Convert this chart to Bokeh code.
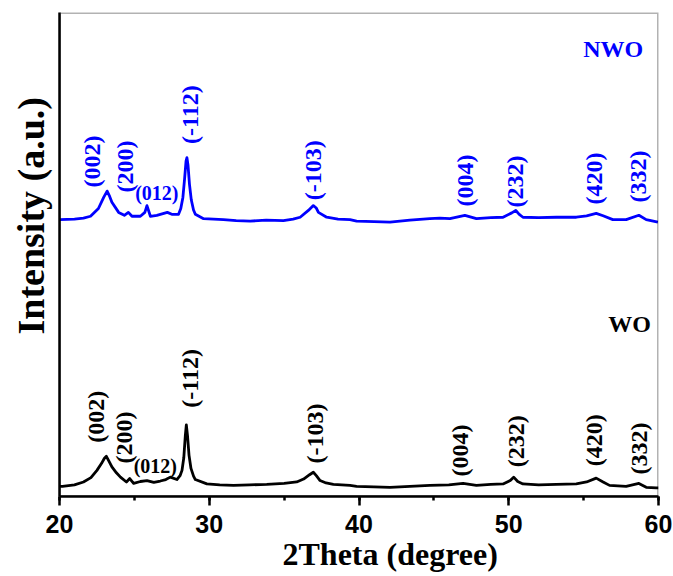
import math
from bokeh.plotting import figure
from bokeh.models import Range1d, SingleIntervalTicker, FixedTicker, BoxAnnotation, Title
from bokeh.core.properties import value
from bokeh.embed import file_html
from bokeh.resources import INLINE

# ---- data (2theta in degrees, intensity in a.u.) ----
wo_2theta = [20.0, 20.2, 21.0, 21.6, 22.1, 22.5, 22.8, 23.0, 23.13, 23.3, 23.5, 23.8, 24.07, 24.47,
             24.69, 24.95, 25.4, 25.84, 26.3, 26.73, 27.1, 27.4, 27.84, 28.05, 28.18, 28.3, 28.4,
             28.47, 28.55, 28.65, 28.78, 28.95, 29.07, 29.84, 30.7, 31.62, 32.7, 33.84, 35.0,
             35.84, 36.3, 36.7, 36.95, 37.15, 37.4, 37.8, 38.29, 39.4, 39.84, 41.0, 42.07, 43.4,
             44.73, 46.0, 46.95, 47.84, 48.8, 49.62, 50.1, 50.33, 50.6, 50.95, 52.0, 53.18, 54.51,
             55.2, 55.84, 56.3, 56.73, 57.84, 58.69, 59.18, 59.84, 60.0]
wo_int = [2.1, 2.1, 2.4, 3.0, 3.9, 5.4, 6.8, 7.9, 8.3, 7.3, 6.1, 4.9, 4.0, 3.0,
          3.7, 2.7, 3.1, 3.3, 2.9, 3.2, 3.5, 4.0, 3.5, 4.3, 5.4, 8.0, 12.5,
          14.8, 12.5, 8.5, 5.8, 4.2, 3.5, 2.6, 2.4, 2.3, 2.4, 2.5, 2.7,
          3.0, 3.6, 4.5, 5.0, 4.3, 3.3, 2.8, 2.5, 2.3, 2.1, 2.0, 1.9, 2.1,
          2.3, 2.4, 2.7, 2.3, 2.5, 2.6, 3.3, 4.0, 3.1, 2.6, 2.4, 2.5, 2.6,
          3.0, 3.8, 3.0, 2.3, 2.1, 2.7, 1.9, 1.8, 1.8]

nwo_2theta = [20.0, 21.0, 21.6, 22.07, 22.6, 22.95, 23.18, 23.35, 23.5, 23.95, 24.33, 24.6, 24.84,
              25.4, 25.7, 25.84, 26.07, 26.5, 27.2, 27.5, 27.95, 28.1, 28.24, 28.35, 28.45, 28.51,
              28.58, 28.68, 28.8, 28.95, 29.07, 29.62, 30.95, 31.8, 32.73, 33.8, 34.95, 35.6,
              36.07, 36.62, 36.95, 37.15, 37.29, 37.84, 38.6, 39.4, 39.84, 41.0, 42.07, 43.4,
              44.73, 45.4, 46.07, 47.07, 47.84, 48.8, 49.62, 50.2, 50.47, 50.7, 50.95, 52.0, 53.18,
              54.51, 55.2, 55.84, 56.3, 56.95, 57.84, 58.69, 59.18, 59.96]
nwo_int = [57.2, 57.3, 57.5, 57.9, 59.5, 61.8, 63.1, 62.0, 60.8, 58.7, 58.1, 58.7, 57.9,
           57.9, 58.7, 60.1, 57.9, 58.1, 58.7, 58.3, 58.3, 59.5, 61.8, 65.5, 69.3, 70.0,
           68.5, 64.5, 61.3, 59.2, 58.3, 57.4, 57.2, 57.0, 56.9, 57.1, 57.0, 57.3,
           57.7, 59.1, 60.1, 59.6, 58.7, 57.7, 57.3, 57.2, 56.9, 56.8, 56.7, 57.1,
           57.4, 57.5, 57.4, 58.1, 57.4, 57.6, 57.7, 58.6, 59.1, 58.3, 57.7, 57.6, 57.7,
           57.7, 58.0, 58.5, 58.0, 57.2, 57.2, 58.1, 57.2, 56.7]

# peak labels (hkl): rotated ones and the horizontal one
nwo_lbl = ["(002)", "(200)", "(-112)", "(-103)", "(004)", "(232)", "(420)", "(332)"]
nwo_lbl_x = [22.2, 24.35, 28.73, 36.93, 47.07, 50.4, 55.67, 58.6]
nwo_lbl_y = [69.2, 68.2, 78.9, 67.4, 65.3, 65.1, 65.7, 66.1]
nwo_h_lbl = ["(012)"]
nwo_h_x = [26.5]
nwo_h_y = [62.7]

wo_lbl = ["(002)", "(200)", "(-112)", "(-103)", "(004)", "(232)", "(420)", "(332)"]
wo_lbl_x = [22.45, 24.3, 28.73, 37.07, 46.73, 50.47, 55.67, 58.73]
wo_lbl_y = [16.5, 12.2, 24.4, 13.0, 9.5, 11.4, 11.6, 9.9]
wo_h_lbl = ["(012)"]
wo_h_x = [26.4]
wo_h_y = [6.3]

series_names = ["NWO", "WO"]
series_name_x = [56.97, 58.07]
series_name_y = [92.4, 35.7]

BLUE = "#0000ff"
BLACK = "#000000"
SERIF = value("Liberation Serif")

p = figure(width=673, height=576, output_backend="svg", toolbar_location=None,
           x_range=Range1d(20, 60), y_range=Range1d(0, 100),
           min_border_left=59, min_border_right=15, min_border_top=12, min_border_bottom=80)
p.background_fill_color = "white"
p.border_fill_color = "white"
p.xgrid.visible = False
p.ygrid.visible = False
p.outline_line_color = None

# frame box
p.add_layout(BoxAnnotation(fill_color=None, fill_alpha=0, line_color="black", line_width=3))

p.line(wo_2theta, wo_int, line_color=BLACK, line_width=2.8, line_join="round")
p.line(nwo_2theta, nwo_int, line_color=BLUE, line_width=2.8, line_join="round")

rot_kw = dict(angle=math.pi / 2, text_align="center", text_baseline="middle",
              text_font=SERIF, text_font_style="bold", text_font_size="24px")
p.text(nwo_lbl_x, nwo_lbl_y, text=nwo_lbl, text_color=BLUE, **rot_kw)
p.text(wo_lbl_x, wo_lbl_y, text=wo_lbl, text_color=BLACK, **rot_kw)
h_kw = dict(text_align="center", text_baseline="middle",
            text_font=SERIF, text_font_style="bold", text_font_size="20px")
p.text(nwo_h_x, nwo_h_y, text=nwo_h_lbl, text_color=BLUE, **h_kw)
p.text(wo_h_x, wo_h_y, text=wo_h_lbl, text_color=BLACK, **h_kw)
p.text(series_name_x, series_name_y, text=series_names, text_color=[BLUE, BLACK],
       text_align="center", text_baseline="middle", text_font=SERIF,
       text_font_style="bold", text_font_size="24px")

# x axis
xa = p.xaxis[0]
xa.ticker = SingleIntervalTicker(interval=10, num_minor_ticks=2)
xa.axis_line_width = 2.5
xa.axis_line_color = "black"
xa.major_tick_line_width = 2.5
xa.minor_tick_line_width = 2.5
xa.major_tick_in = 0
xa.major_tick_out = 9
xa.minor_tick_in = 0
xa.minor_tick_out = 4
xa.major_label_text_font = "Liberation Sans"
xa.major_label_text_font_style = "bold"
xa.major_label_text_font_size = "25px"
xa.major_label_text_color = "black"
xa.major_label_standoff = 9

# y axis: no ticks
ya = p.yaxis[0]
ya.ticker = FixedTicker(ticks=[])
ya.axis_line_width = 2.5
ya.axis_line_color = "black"
ya.major_tick_line_color = None
ya.minor_tick_line_color = None
ya.major_label_text_font_size = "0px"

# axis titles
p.add_layout(Title(text="2Theta (degree)", align="left", offset=223, vertical_align="top",
                   standoff=0, text_font="Liberation Serif", text_font_style="bold",
                   text_font_size="32px", text_color="black"), "below")
p.add_layout(Title(text="Intensity (a.u.)", align="left", offset=162, vertical_align="top",
                   standoff=12, text_font="Liberation Serif", text_font_style="bold",
                   text_font_size="38px", text_color="black"), "left")

open("out.html", "w").write(file_html(p, INLINE))
